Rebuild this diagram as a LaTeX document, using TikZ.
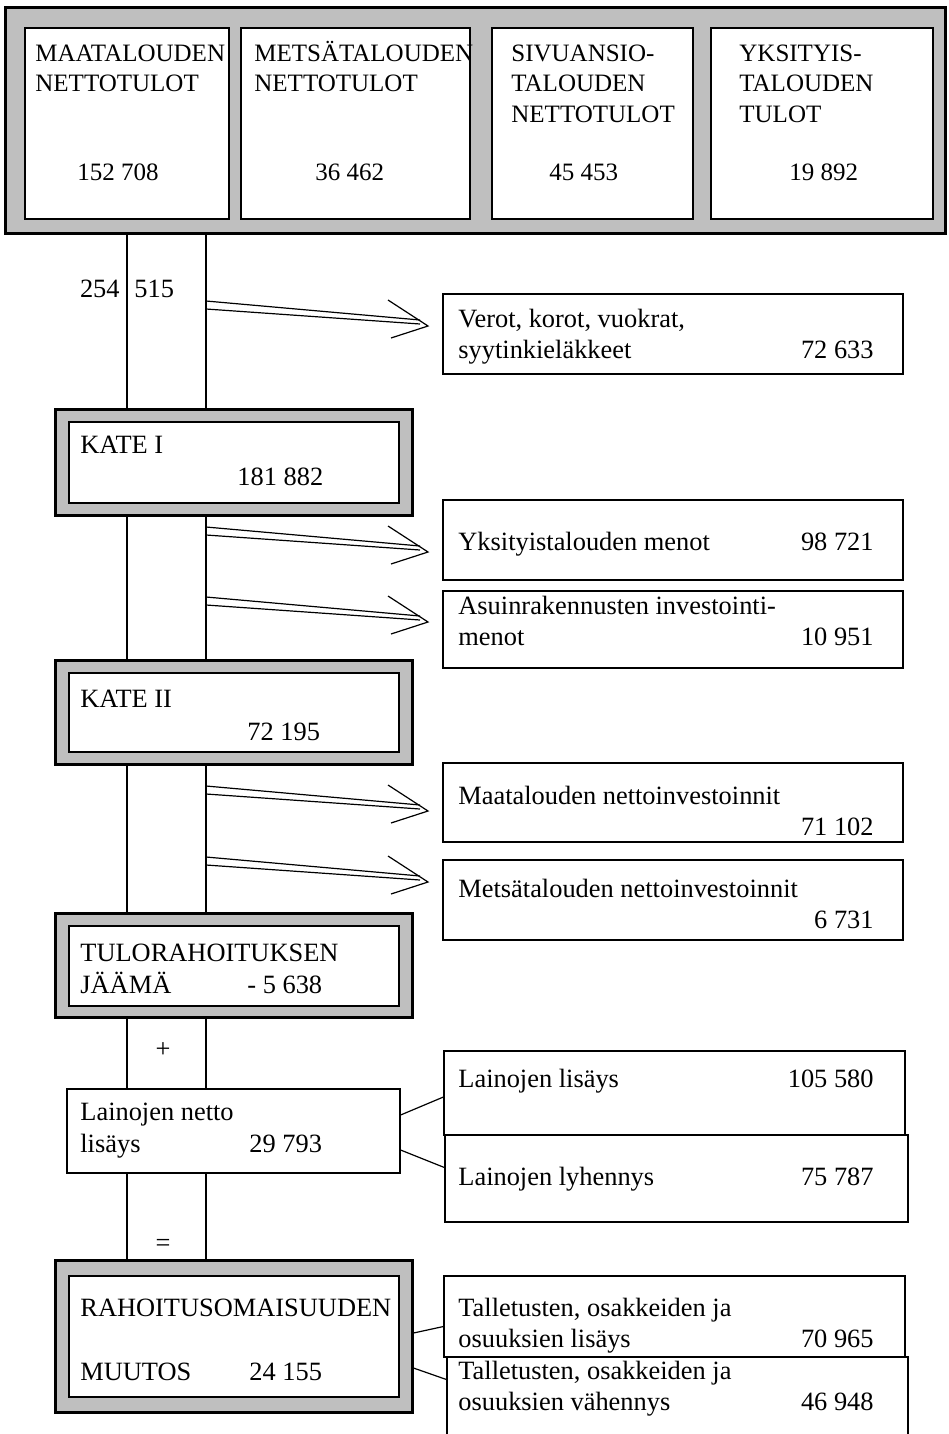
\documentclass[tikz,border=0pt]{standalone}
\usepackage{fontspec}
\setmainfont{Liberation Serif}
\usetikzlibrary{fit}

\newcommand{\bandfont}{\fontsize{12.5}{15}\selectfont}
\newcommand{\boxfont}{\fontsize{13.2}{15.5}\selectfont}

\tikzset{
  shadebox/.style={draw, line width=1.5pt, fill=black!25, inner sep=0pt},
  whitebox/.style={draw, line width=0.8pt, fill=white, inner sep=0pt},
  itembox/.style={draw, line width=0.6pt, fill=white, inner sep=0pt},
  lbl/.style={anchor=base west, inner sep=0pt, align=left, font=\boxfont},
  bandlbl/.style={lbl, font=\bandfont},
  numr/.style={anchor=base east, inner sep=0pt, font=\boxfont},
  flow/.style={line width=0.6pt},
}

\begin{document}
\begin{tikzpicture}[x=0.5pt, y=-0.5pt]
  \clip (0,0) rectangle (948,1434);
  \fill[white] (0,0) rectangle (948,1434);

  % income band at the top (multi-line labels sit on their last line)
  \node[shadebox, fit={(5,8) (945,233)}] (band) {};
  \node[whitebox, fit={(25,28) (229,219)}] (maa) {};
  \node[whitebox, fit={(241,28) (470,219)}] (met) {};
  \node[whitebox, fit={(492,28) (693,219)}] (siv) {};
  \node[whitebox, fit={(711,28) (933,219)}] (yks) {};
  \node[bandlbl] (maat) at (35,92) {MAATALOUDEN\\NETTOTULOT};
  \node[bandlbl] (maan) at (77,180) {152 708};
  \node[bandlbl] (mett) at (254,92) {METSÄTALOUDEN\\NETTOTULOT};
  \node[bandlbl] (metn) at (315,180) {36 462};
  \node[bandlbl] (sivt) at (511,122) {SIVUANSIO-\\TALOUDEN\\NETTOTULOT};
  \node[bandlbl] (sivn) at (549,180) {45 453};
  \node[bandlbl] (ykst) at (739,122) {YKSITYIS-\\TALOUDEN\\TULOT};
  \node[bandlbl] (yksn) at (789,180) {19 892};

  % balance boxes
  \node[shadebox, fit={(55,409) (412,515)}] (kate1) {};
  \node[whitebox, fit={(69,422) (399,503)}] (kate1in) {};
  \node[lbl] at (80,453) {KATE I};
  \node[lbl] at (237,485) {181 882};

  \node[shadebox, fit={(55,660) (412,764)}] (kate2) {};
  \node[whitebox, fit={(69,673) (399,752)}] (kate2in) {};
  \node[lbl] at (80,707) {KATE II};
  \node[lbl] at (247,740) {72 195};

  \node[shadebox, fit={(55,913) (412,1017)}] (jaama) {};
  \node[whitebox, fit={(69,926) (399,1006)}] (jaamain) {};
  \node[lbl] at (80,961) {TULORAHOITUKSEN};
  \node[lbl] at (80,993) {JÄÄMÄ};
  \node[lbl] at (247,993) {- 5 638};

  \node[itembox, fit={(67,1089) (400,1173)}] (netto) {};
  \node[lbl] at (80,1120) {Lainojen netto};
  \node[lbl] at (80,1152) {lisäys};
  \node[lbl] at (249,1152) {29 793};

  \node[shadebox, fit={(55,1260) (412,1412)}] (muutos) {};
  \node[whitebox, fit={(69,1276) (399,1397)}] (muutosin) {};
  \node[lbl] at (80,1316) {RAHOITUSOMAISUUDEN};
  \node[lbl] at (80,1380) {MUUTOS};
  \node[lbl] at (249,1380) {24 155};

  % outflow boxes on the right
  \node[itembox, fit={(443,294) (903,374)}] (verot) {};
  \node[lbl] at (458,358) {Verot, korot, vuokrat,\\syytinkieläkkeet};
  \node[numr] at (874,358) {72 633};

  \node[itembox, fit={(443,500) (903,580)}] (ymenot) {};
  \node[lbl] at (458,550) {Yksityistalouden menot};
  \node[numr] at (874,550) {98 721};

  \node[itembox, fit={(443,591) (903,668)}] (asuin) {};
  \node[lbl] at (458,645) {Asuinrakennusten investointi-\\menot};
  \node[numr] at (874,645) {10 951};

  \node[itembox, fit={(443,763) (903,842)}] (maainv) {};
  \node[lbl] at (458,804) {Maatalouden nettoinvestoinnit};
  \node[numr] at (874,835) {71 102};

  \node[itembox, fit={(443,860) (903,940)}] (metinv) {};
  \node[lbl] at (458,897) {Metsätalouden nettoinvestoinnit};
  \node[numr] at (874,928) {6 731};

  \node[itembox, fit={(444,1051) (905,1135)}] (lisays) {};
  \node[lbl] at (458,1087) {Lainojen lisäys};
  \node[numr] at (874,1087) {105 580};

  \node[itembox, fit={(445,1135) (908,1222)}] (lyhennys) {};
  \node[lbl] at (458,1185) {Lainojen lyhennys};
  \node[numr] at (874,1185) {75 787};

  \node[itembox, fit={(444,1276) (905,1357)}] (tlisays) {};
  \node[lbl] at (458,1347) {Talletusten, osakkeiden ja\\osuuksien lisäys};
  \node[numr] at (874,1347) {70 965};

  \node[itembox, fit={(447,1357) (908,1470)}] (tvah) {};
  \node[lbl] at (458,1410) {Talletusten, osakkeiden ja\\osuuksien vähennys};
  \node[numr] at (874,1410) {46 948};

  % main flow channel
  \coordinate (c1) at (127,0);
  \coordinate (c2) at (206,0);
  \foreach \a/\b in {band/kate1,kate1/kate2,kate2/jaama,jaama/netto,netto/muutos}
    \draw[flow] (\a.south -| c1) -- (\b.north -| c1)
                (\a.south -| c2) -- (\b.north -| c2);
  \node[numr] at (120,297) {254};
  \node[lbl] at (134,297) {515};
  \node[font=\boxfont] (plus) at (163,1050) {+};
  \node[font=\boxfont] (eq) at (163,1245) {=};

  % outflow arrows
  \foreach \y in {301,527,597,786,857} {
    \draw[flow] (206,\y) -- (420,\y+19) (206,\y+8) -- (420,\y+23);
    \draw[flow] (388,\y-1) -- (428,\y+25) -- (391,\y+37);
  }

  % loan and asset links
  \draw[flow] ([yshift=8pt]netto.east) -- ([yshift=-2pt]lisays.west);
  \draw[flow] ([yshift=-9.5pt]netto.east) -- ([yshift=5.5pt]lyhennys.west);
  \draw[flow] ([yshift=1.5pt]muutos.east) -- ([yshift=-5pt]tlisays.west);
  \draw[flow] ([yshift=-16pt]muutos.east) -- ([yshift=17pt]tvah.west);
\end{tikzpicture}
\end{document}
